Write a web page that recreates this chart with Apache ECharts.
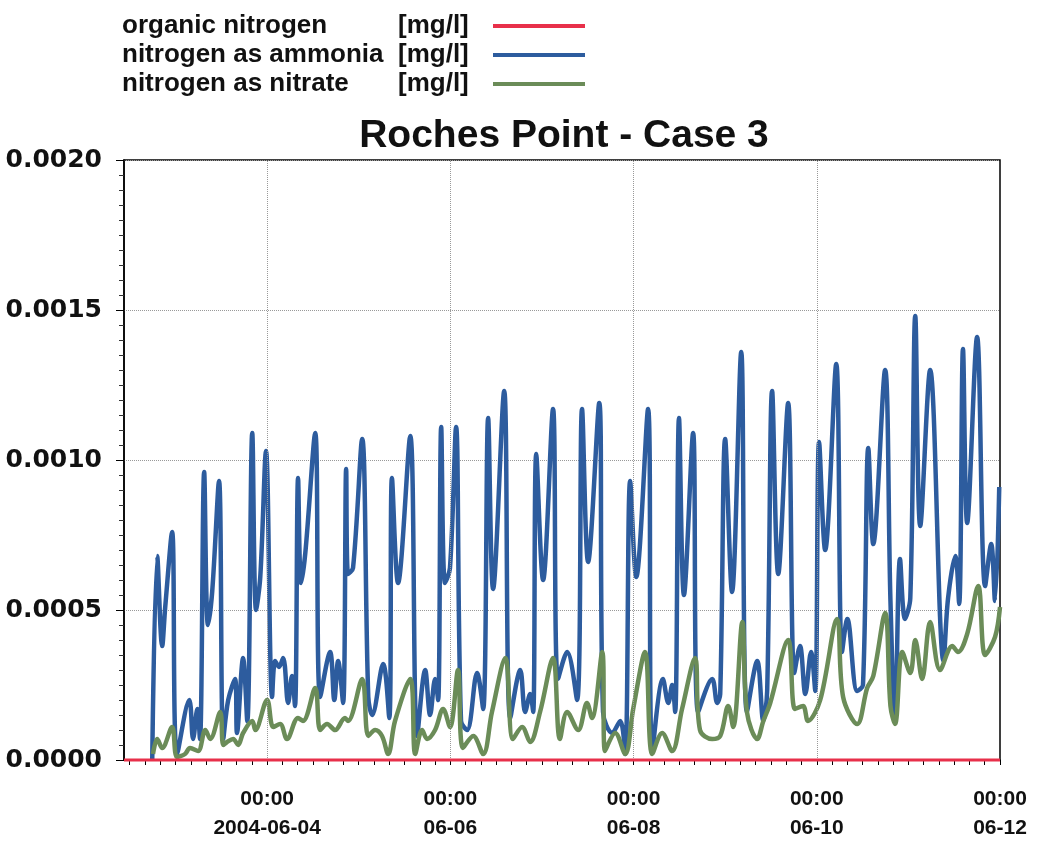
<!DOCTYPE html>
<html>
<head>
<meta charset="utf-8">
<script src="https://cdn.jsdelivr.net/npm/echarts@6/dist/echarts.min.js"></script>
<style>
  html, body { margin: 0; padding: 0; background: #fff; }
  #main { width: 1047px; height: 845px; }
</style>
</head>
<body>
<div id="main"></div>
<script>
// hours relative to 2004-06-04 00:00
var organicHours = [-37.5, 192];
var organic = [0, 0];

var ammoniaHours = [
  -30.1, -28.8, -27.5, -26.7, -24.9, -23.6, -20.4, -19.4, -18.3, -17.6,
  -16.5, -15.5, -14.4, -12.6, -11.5, -10.2, -8.4, -7.9, -6.3, -5.2,
  -3.9, -2.9, -1.8, -0.3, 1.3, 2.1, 3.1, 4.2, 5.5, 6.5,
  7.3, 8.1, 8.9, 10.0, 12.6, 13.9, 16.5, 17.6, 18.6, 19.9,
  20.7, 21.2, 22.5, 24.9, 26.5, 27.5, 30.4, 32.0, 32.7, 34.3,
  37.5, 39.3, 41.4, 42.7, 44.0, 44.8, 45.6, 46.6, 47.9, 49.5,
  50.8, 52.4, 55.0, 56.6, 57.9, 59.2, 62.1, 63.7, 66.3, 67.6,
  68.9, 69.7, 70.5, 72.3, 74.9, 76.2, 78.6, 81.2, 82.5, 84.1,
  87.0, 88.0, 90.4, 92.5, 93.8, 95.1, 96.7, 99.8, 100.9, 103.7,
  105.1, 106.1, 106.9, 107.9, 109.2, 111.6, 112.9, 116.6, 117.9, 118.7,
  120.0, 121.8, 124.2, 125.7, 128.4, 130.0, 131.0, 132.3, 133.9, 136.5,
  138.1, 139.6, 141.0, 142.5, 143.6, 144.6, 146.2, 149.1, 150.6, 152.0,
  154.6, 156.1, 157.5, 158.8, 161.9, 163.3, 164.5, 165.8, 167.1, 168.5,
  169.8, 171.1, 173.7, 177.2, 178.4, 180.3, 181.3, 182.3, 183.4, 186.0,
  188.1, 189.7, 190.7, 191.8
];
var ammonia = [
  0.00000, 0.00068, 0.00038, 0.00051, 0.00076, 0.00002, 0.00020, 0.00007, 0.00017, 0.00007,
  0.00096, 0.00045, 0.00056, 0.00093, 0.00007, 0.00020, 0.00027, 0.00009, 0.00034, 0.00013,
  0.00109, 0.00050, 0.00061, 0.00103, 0.00021, 0.00033, 0.00031, 0.00034, 0.00019, 0.00028,
  0.00018, 0.00094, 0.00059, 0.00069, 0.00109, 0.00021, 0.00036, 0.00020, 0.00033, 0.00019,
  0.00097, 0.00062, 0.00064, 0.00107, 0.00021, 0.00015, 0.00032, 0.00014, 0.00094, 0.00059,
  0.00108, 0.00008, 0.00030, 0.00015, 0.00027, 0.00020, 0.00111, 0.00059, 0.00064, 0.00111,
  0.00013, 0.00010, 0.00029, 0.00017, 0.00114, 0.00057, 0.00123, 0.00014, 0.00030, 0.00016,
  0.00022, 0.00016, 0.00102, 0.00060, 0.00117, 0.00027, 0.00036, 0.00020, 0.00117, 0.00066,
  0.00119, 0.00016, 0.00009, 0.00013, 0.00002, 0.00093, 0.00061, 0.00117, 0.00003, 0.00027,
  0.00019, 0.00025, 0.00016, 0.00114, 0.00055, 0.00109, 0.00016, 0.00027, 0.00019, 0.00022,
  0.00107, 0.00056, 0.00136, 0.00016, 0.00033, 0.00013, 0.00023, 0.00123, 0.00062, 0.00119,
  0.00029, 0.00038, 0.00022, 0.00036, 0.00023, 0.00106, 0.00070, 0.00132, 0.00036, 0.00047,
  0.00023, 0.00025, 0.00104, 0.00072, 0.00130, 0.00053, 0.00013, 0.00067, 0.00047, 0.00054,
  0.00148, 0.00078, 0.00130, 0.00033, 0.00054, 0.00068, 0.00052, 0.00137, 0.00079, 0.00141,
  0.00058, 0.00072, 0.00053, 0.00091
];

var nitrateHours = [
  -29.9, -28.8, -27.5, -24.9, -23.6, -21.5, -20.2, -18.1, -16.2, -14.9,
  -12.3, -11.5, -10.5, -8.9, -7.6, -6.3, -3.9, -3.1, 0.0, 1.6,
  3.4, 5.2, 8.1, 9.4, 12.6, 13.9, 15.7, 17.8, 20.4, 21.2,
  24.9, 26.5, 28.3, 30.1, 31.7, 33.5, 37.5, 38.8, 40.6, 41.9,
  44.0, 46.1, 47.9, 50.0, 51.3, 54.0, 56.6, 58.9, 62.4, 64.4,
  66.8, 68.9, 71.5, 74.9, 76.7, 78.6, 81.5, 83.8, 85.1, 87.8,
  88.5, 91.2, 93.8, 95.9, 99.0, 100.9, 103.5, 106.1, 108.7, 112.1,
  113.4, 116.6, 118.7, 120.8, 122.1, 124.5, 125.7, 128.4, 130.0, 131.8,
  136.5, 138.3, 140.4, 141.7, 144.9, 149.3, 150.9, 154.6, 157.2, 158.8,
  161.9, 163.3, 164.5, 166.4, 168.5, 169.8, 171.6, 173.7, 176.3, 179.5,
  181.0, 183.4, 186.3, 188.1, 190.7, 192.0
];
var nitrate = [
  0.00002, 0.00007, 0.00004, 0.00011, 0.00001, 0.00002, 0.00004, 0.00003, 0.00010, 0.00007,
  0.00016, 0.00005, 0.00006, 0.00007, 0.00005, 0.00009, 0.00013, 0.00010, 0.00020, 0.00011,
  0.00012, 0.00007, 0.00014, 0.00013, 0.00024, 0.00010, 0.00012, 0.00010, 0.00014, 0.00013,
  0.00027, 0.00008, 0.00010, 0.00008, 0.00002, 0.00013, 0.00027, 0.00002, 0.00010, 0.00007,
  0.00010, 0.00017, 0.00011, 0.00030, 0.00004, 0.00008, 0.00002, 0.00016, 0.00034, 0.00007,
  0.00011, 0.00006, 0.00016, 0.00034, 0.00007, 0.00016, 0.00010, 0.00019, 0.00014, 0.00036,
  0.00003, 0.00009, 0.00002, 0.00017, 0.00036, 0.00002, 0.00009, 0.00003, 0.00017, 0.00034,
  0.00010, 0.00007, 0.00008, 0.00018, 0.00011, 0.00046, 0.00016, 0.00007, 0.00013, 0.00019,
  0.00040, 0.00017, 0.00018, 0.00013, 0.00020, 0.00047, 0.00021, 0.00012, 0.00024, 0.00028,
  0.00049, 0.00018, 0.00012, 0.00036, 0.00029, 0.00040, 0.00027, 0.00046, 0.00030, 0.00038,
  0.00036, 0.00042, 0.00058, 0.00035, 0.00041, 0.00051
];

var labelHours = [0, 48, 96, 144, 192];
var gridHours = [0, 48, 96, 144];

function pairs(xs, ys) {
  return xs.map(function (x, i) { return [x, ys[i]]; });
}

var minorHours = [];
for (var h = -36; h <= 192; h += 4) minorHours.push(h);

var origin = Date.UTC(2004, 5, 4);
function pad(n) { return (n < 10 ? '0' : '') + n; }

var bold = { fontFamily: 'Liberation Sans', fontWeight: 'bold', fontSize: 26, color: '#111' };

var option = {
  backgroundColor: '#fff',
  animation: false,
  title: {
    text: 'Roches Point - Case 3',
    left: 559,
    top: 112,
    textAlign: 'center',
    textStyle: { fontFamily: 'Liberation Sans', fontWeight: 'bold', fontSize: 39, color: '#111' }
  },
  legend: {
    orient: 'vertical',
    left: 117,
    top: 8,
    align: 'right',
    itemWidth: 92,
    itemHeight: 4,
    itemGap: 3,
    icon: 'rect',
    data: ['organic nitrogen', 'nitrogen as ammonia', 'nitrogen as nitrate'],
    formatter: function (name) { return '{n|' + name + '}{u|[mg/l]}'; },
    textStyle: {
      fontFamily: 'Liberation Sans', fontWeight: 'bold', fontSize: 26, lineHeight: 26, color: '#111',
      rich: {
        n: Object.assign({ width: 276, align: 'left' }, bold),
        u: Object.assign({ width: 90, align: 'left' }, bold)
      }
    }
  },
  grid: {
    left: 124, right: 47, top: 160, bottom: 85,
    show: true, borderColor: '#000', borderWidth: 1.5
  },
  xAxis: {
    type: 'value',
    min: -37.5,
    max: 192,
    axisLine: { onZero: false, lineStyle: { color: '#000', width: 1.5 } },
    axisTick: { show: true, customValues: minorHours, length: 5, lineStyle: { color: '#000' } },
    splitLine: { show: false },
    axisLabel: {
      customValues: labelHours,
      showMinLabel: true, showMaxLabel: true,
      margin: 25,
      fontFamily: 'Liberation Sans',
      fontWeight: 'bold', fontSize: 21, lineHeight: 29, color: '#111',
      formatter: function (v) {
        var d = new Date(origin + v * 3600000);
        var md = pad(d.getUTCMonth() + 1) + '-' + pad(d.getUTCDate());
        var hm = pad(d.getUTCHours()) + ':' + pad(d.getUTCMinutes());
        return hm + '\n' + (v === 0 ? d.getUTCFullYear() + '-' + md : md);
      }
    }
  },
  yAxis: {
    type: 'value',
    min: 0,
    max: 0.002,
    interval: 0.0005,
    axisLine: { show: true, onZero: false, lineStyle: { color: '#000', width: 1.5 } },
    axisTick: { show: true, length: 8, lineStyle: { color: '#000' } },
    minorTick: { show: true, splitNumber: 10, length: 5, lineStyle: { color: '#333' } },
    splitLine: { show: true, lineStyle: { color: '#999', type: 'dotted', width: 1 } },
    axisLabel: {
      margin: 22,
      fontFamily: 'DejaVu Sans', fontWeight: 'bold', fontSize: 25, color: '#111',
      formatter: function (v) { return v.toFixed(4); }
    }
  },
  series: [
    {
      name: 'organic nitrogen',
      type: 'line',
      data: pairs(organicHours, organic),
      showSymbol: false,
      clip: false,
      z: 5,
      color: '#e8304a',
      lineStyle: { width: 3, color: '#e8304a' }
    },
    {
      name: 'nitrogen as ammonia',
      type: 'line',
      data: pairs(ammoniaHours, ammonia),
      showSymbol: false,
      smooth: 0.35,
      color: '#2d5c9e',
      lineStyle: { width: 4.5, color: '#2d5c9e' },
      markLine: {
        silent: true,
        symbol: 'none',
        label: { show: false },
        lineStyle: { color: '#999', type: 'dotted', width: 1 },
        data: gridHours.map(function (g) { return { xAxis: g }; })
      }
    },
    {
      name: 'nitrogen as nitrate',
      type: 'line',
      data: pairs(nitrateHours, nitrate),
      showSymbol: false,
      smooth: 0.35,
      color: '#6b8c58',
      lineStyle: { width: 4.5, color: '#6b8c58' }
    }
  ]
};

echarts.init(document.getElementById('main')).setOption(option);
</script>
</body>
</html>
